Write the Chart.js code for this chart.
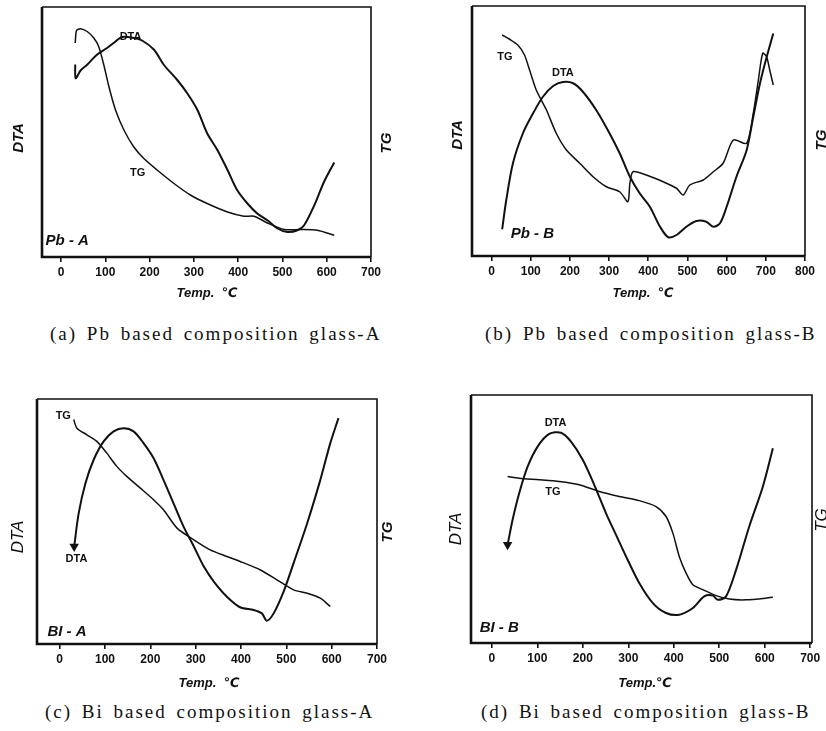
<!DOCTYPE html>
<html>
<head>
<meta charset="utf-8">
<script src="https://cdn.jsdelivr.net/npm/chart.js@4.4.1/dist/chart.umd.min.js"></script>
<style>
  html, body { margin: 0; padding: 0; background: #fff; }
  body { width: 826px; height: 731px; position: relative; overflow: hidden; }
  canvas { position: absolute; }
  .caption {
    position: absolute;
    font-family: 'Liberation Serif', 'DejaVu Serif', serif;
    font-size: 19px;
    letter-spacing: 2px;
    word-spacing: 3px;
    color: #111;
    white-space: nowrap;
    line-height: 20px;
  }
</style>
</head>
<body>
<canvas id="chartA"></canvas>
<canvas id="chartB"></canvas>
<canvas id="chartC"></canvas>
<canvas id="chartD"></canvas>
<div class="caption" style="left:50px; top:324px;">(a) Pb based composition glass-A</div>
<div class="caption" style="left:485px; top:324px;">(b) Pb based composition glass-B</div>
<div class="caption" style="left:45px; top:702px;">(c) Bi based composition glass-A</div>
<div class="caption" style="left:481px; top:702px;">(d) Bi based composition glass-B</div>
<script>
// tick labels of the temperature axes
const ticks700 = [0, 100, 200, 300, 400, 500, 600, 700];
const ticks800 = [0, 100, 200, 300, 400, 500, 600, 700, 800];

// (a) Pb based glass-A
const pbA_dtaTemp = [32, 33, 44, 59, 81, 104, 123, 138, 164, 183, 210, 232, 262, 285, 308, 330, 353, 376, 398, 421, 443, 466, 489, 511, 534, 549, 572, 594, 617];
const pbA_dta = [77, 71.5, 74.6, 76.9, 80.9, 83.6, 86.2, 88, 87.6, 86.6, 82.9, 76.9, 70.9, 65.5, 58.8, 49.5, 42.8, 34.8, 26.7, 21.4, 17.4, 14.7, 11.4, 10, 10.7, 12.7, 20.7, 30.1, 37.8];
const pbA_tgTemp = [32, 35, 44, 59, 74, 85, 96.5, 108, 123, 142, 164, 187, 217, 255, 293, 330, 376, 413, 436, 466, 504, 541, 579, 617];
const pbA_tg = [85.6, 90.6, 91.3, 90.2, 87.6, 84.2, 76.9, 68.2, 58.8, 50.8, 44.1, 39.4, 34.8, 29.4, 24.7, 21.4, 18, 16.3, 16.3, 13.6, 11, 11, 10.7, 8.7];

// (b) Pb based glass-B
const pbB_dtaTemp = [27, 37.5, 54.5, 80, 106, 131, 157, 182, 208, 233, 267, 301, 327, 353, 378, 404, 430, 451, 472, 497, 523, 548, 566, 583, 600, 625, 651, 668, 685, 702, 719];
const pbB_dta = [10.7, 22.4, 37.1, 49.1, 57.1, 63.7, 68, 69.6, 69.1, 65.7, 58.4, 49.1, 41.1, 31.7, 25.1, 19.7, 11.7, 7.5, 8.4, 11.7, 14, 13.7, 11.7, 13.1, 19.7, 31.7, 42.3, 55.7, 69, 79.5, 89];
const pbB_tgTemp = [27, 46, 67, 84, 97, 114, 140, 165, 191, 225, 259, 293, 327, 348, 353, 361, 395, 438, 472, 489, 506, 540, 566, 591, 617, 651, 668, 681, 692, 702, 710, 719];
const pbB_tg = [88.4, 86.7, 84.4, 80.4, 74.4, 66.4, 58.4, 49.1, 42.4, 37.1, 31.7, 27.7, 25.7, 21.7, 29, 33.7, 32.4, 29.7, 27.1, 24.4, 28.4, 30.4, 33.7, 37.1, 46.4, 45.1, 57.1, 70.4, 81.1, 79.7, 74.4, 68.4];

// (c) Bi based glass-A
const biA_dtaTemp = [32, 42, 57, 75, 97, 119, 141, 163, 185, 207, 229, 251, 273, 296, 318, 340, 369, 398, 428, 446, 457, 472, 494, 516, 546, 575, 597, 615];
const biA_dta = [39.8, 53.4, 65.7, 75.2, 82.7, 86.8, 88.1, 86.8, 82, 75.9, 67, 57.5, 48, 39.8, 31.6, 25.5, 19.3, 15, 13.9, 12.5, 9.5, 12.5, 21.4, 33, 49.3, 67, 82, 92.2];
const biA_tgTemp = [31, 38, 60, 82, 104, 126, 148, 178, 207, 229, 259, 296, 332, 369, 398, 443, 479, 516, 546, 575, 597];
const biA_tg = [91.6, 88.1, 85.4, 82.7, 77.9, 72.5, 68.4, 63.6, 58.9, 54.8, 47.3, 42.5, 38.4, 35.7, 33.7, 30.2, 26.2, 22.1, 20.7, 18.7, 15.3];

// (d) Bi based glass-B
const biB_dtaTemp = [34.5, 45.5, 60, 78.5, 100.5, 126, 152, 174, 200, 225, 251, 273, 295, 324, 354, 383, 412, 442, 467, 486, 497, 515, 537, 566, 596, 618];
const biB_dta = [39.6, 49.7, 60.4, 71.1, 79.2, 84.3, 84.8, 81.2, 73.8, 63.8, 52.3, 43.6, 34.9, 24.2, 16.1, 12.1, 11.4, 14.1, 18.8, 19.1, 17.4, 18.8, 29.5, 47, 63.1, 78.5];
const biB_tgTemp = [34.5, 60, 104, 148, 192, 236, 280, 324, 361, 383, 398, 412, 427, 442, 464, 493, 522, 559, 618];
const biB_tg = [67.1, 66.4, 65.8, 65.1, 63.8, 61.1, 59.1, 57.4, 55, 51, 44.3, 34.9, 28.2, 23.5, 21.5, 19.1, 17.7, 17.4, 18.4];

const SANS = "'Liberation Sans', Arial, 'DejaVu Sans', sans-serif";

function pairs(xs, ys) {
    return xs.map((x, i) => ({ x: x, y: ys[i] }));
}

// frame round the plot area, heavier on the left and bottom
const framePlugin = {
    id: 'frame',
    afterDraw(chart) {
        const a = chart.chartArea;
        const ctx = chart.ctx;
        ctx.save();
        ctx.strokeStyle = '#111';
        ctx.lineWidth = 1.6;
        ctx.beginPath();
        ctx.moveTo(a.left, a.top);
        ctx.lineTo(a.right, a.top);
        ctx.lineTo(a.right, a.bottom);
        ctx.stroke();
        ctx.lineWidth = 2.6;
        ctx.beginPath();
        ctx.moveTo(a.left, a.top);
        ctx.lineTo(a.left, a.bottom);
        ctx.lineTo(a.right, a.bottom);
        ctx.stroke();
        ctx.restore();
    }
};

function textPlugin(panel) {
    return {
        id: 'panelText',
        afterDraw(chart) {
            const ctx = chart.ctx;
            const xs = chart.scales.x, ys = chart.scales.y;
            ctx.save();
            ctx.fillStyle = '#111';
            ctx.textBaseline = 'middle';
            // labels placed in data units
            panel.notes.forEach(n => {
                ctx.font = n.font;
                ctx.textAlign = n.align || 'center';
                ctx.fillText(n.text, xs.getPixelForValue(n.x), ys.getPixelForValue(n.y));
            });
            // axis titles in canvas pixels
            panel.titles.forEach(t => {
                ctx.save();
                ctx.font = t.font;
                ctx.textAlign = 'center';
                ctx.translate(t.px, t.py);
                if (t.rotate) ctx.rotate(-Math.PI / 2);
                ctx.fillText(t.text, 0, 0);
                ctx.restore();
            });
            ctx.restore();
        }
    };
}

function makeChart(panel) {
    const canvas = document.getElementById(panel.id);
    canvas.width = panel.box.w;
    canvas.height = panel.box.h;
    canvas.style.left = panel.box.left + 'px';
    canvas.style.top = panel.box.top + 'px';

    const dtaSet = {
        label: 'DTA',
        data: pairs(panel.dtaTemp, panel.dta),
        borderColor: '#111',
        borderWidth: 2,
        tension: 0.3,
        pointRadius: ctx => (panel.arrow && ctx.dataIndex === 0) ? 3.5 : 0,
        pointStyle: 'triangle',
        rotation: 180,
        pointBackgroundColor: '#111',
        pointBorderColor: '#111'
    };
    const tgSet = {
        label: 'TG',
        data: pairs(panel.tgTemp, panel.tg),
        borderColor: '#111',
        borderWidth: 1.5,
        tension: 0.25,
        pointRadius: 0
    };

    return new Chart(canvas.getContext('2d'), {
        type: 'line',
        data: { datasets: [dtaSet, tgSet] },
        options: {
            responsive: false,
            animation: false,
            devicePixelRatio: 1,
            layout: { padding: { top: panel.pad.T, right: panel.pad.R, left: 0, bottom: 0 } },
            plugins: {
                legend: { display: false },
                tooltip: { enabled: false }
            },
            scales: {
                x: {
                    type: 'linear',
                    min: panel.xMin,
                    max: panel.xMax,
                    afterBuildTicks: s => { s.ticks = panel.xTicks.map(v => ({ value: v })); },
                    afterFit: s => { s.height = panel.pad.B; },
                    grid: {
                        display: true,
                        drawOnChartArea: false,
                        drawTicks: true,
                        tickLength: 5,
                        color: '#111',
                        lineWidth: 1.6
                    },
                    border: { display: false },
                    ticks: {
                        color: '#111',
                        padding: 3,
                        autoSkip: false,
                        maxRotation: 0,
                        font: { family: SANS, size: 12, weight: 'bold' }
                    }
                },
                y: {
                    min: 0,
                    max: 100,
                    afterFit: s => { s.width = panel.pad.L; },
                    ticks: { display: false },
                    grid: { display: false },
                    border: { display: false }
                }
            }
        },
        plugins: [framePlugin, textPlugin(panel)]
    });
}

const small = 'bold 11px ' + SANS;
const tag = 'italic bold 15px ' + SANS;
const axisT = 'italic bold 15px ' + SANS;
const axisL = 'italic 17px ' + SANS;
const tempT = 'italic bold 13px ' + SANS;

const panels = [
    {
        id: 'chartA', box: { left: 0, top: 0, w: 413, h: 310 },
        pad: { L: 42, R: 42, T: 7, B: 53 },
        xMin: -43, xMax: 700, xTicks: ticks700,
        dtaTemp: pbA_dtaTemp, dta: pbA_dta, tgTemp: pbA_tgTemp, tg: pbA_tg,
        notes: [
            { text: 'DTA', x: 157, y: 88, font: small },
            { text: 'TG', x: 173, y: 33.6, font: small },
            { text: 'Pb - A', x: -35, y: 6.4, font: tag, align: 'left' }
        ],
        titles: [
            { text: 'DTA', px: 19, py: 138, rotate: true, font: axisT },
            { text: 'TG', px: 387, py: 143, rotate: true, font: axisT },
            { text: 'Temp.  \u2103', px: 207, py: 293, font: tempT }
        ]
    },
    {
        id: 'chartB', box: { left: 413, top: 0, w: 413, h: 310 },
        pad: { L: 59, R: 21, T: 6, B: 54 },
        xMin: -50, xMax: 800, xTicks: ticks800,
        dtaTemp: pbB_dtaTemp, dta: pbB_dta, tgTemp: pbB_tgTemp, tg: pbB_tg,
        notes: [
            { text: 'TG', x: 34, y: 79.6, font: small },
            { text: 'DTA', x: 182, y: 73.2, font: small },
            { text: 'Pb - B', x: 49, y: 8.8, font: tag, align: 'left' }
        ],
        titles: [
            { text: 'DTA', px: 45, py: 135, rotate: true, font: axisT },
            { text: 'TG', px: 409, py: 140, rotate: true, font: axisT },
            { text: 'Temp.  \u2103', px: 230, py: 293, font: tempT }
        ]
    },
    {
        id: 'chartC', box: { left: 0, top: 370, w: 413, h: 330 },
        pad: { L: 37, R: 36, T: 29, B: 56 },
        xMin: -50, xMax: 700, xTicks: ticks700, arrow: true,
        dtaTemp: biA_dtaTemp, dta: biA_dta, tgTemp: biA_tgTemp, tg: biA_tg,
        notes: [
            { text: 'TG', x: 8, y: 93, font: small },
            { text: 'DTA', x: 37, y: 34.7, font: small },
            { text: 'BI - A', x: -27, y: 4.9, font: tag, align: 'left' }
        ],
        titles: [
            { text: 'DTA', px: 18, py: 167, rotate: true, font: axisL },
            { text: 'TG', px: 388, py: 162, rotate: true, font: axisT },
            { text: 'Temp.  \u2103', px: 209, py: 313, font: tempT }
        ]
    },
    {
        id: 'chartD', box: { left: 413, top: 370, w: 413, h: 330 },
        pad: { L: 58, R: 14, T: 25, B: 57 },
        xMin: -46, xMax: 704, xTicks: ticks700, arrow: true,
        dtaTemp: biB_dtaTemp, dta: biB_dta, tgTemp: biB_tgTemp, tg: biB_tg,
        notes: [
            { text: 'DTA', x: 140, y: 88.7, font: small },
            { text: 'TG', x: 134, y: 61, font: small },
            { text: 'BI - B', x: -27, y: 6, font: tag, align: 'left' }
        ],
        titles: [
            { text: 'DTA', px: 43, py: 159, rotate: true, font: axisL },
            { text: 'TG', px: 409, py: 150, rotate: true, font: axisL },
            { text: 'Temp.\u2103', px: 232, py: 313, font: tempT }
        ]
    }
];

panels.forEach(makeChart);
</script>
</body>
</html>
